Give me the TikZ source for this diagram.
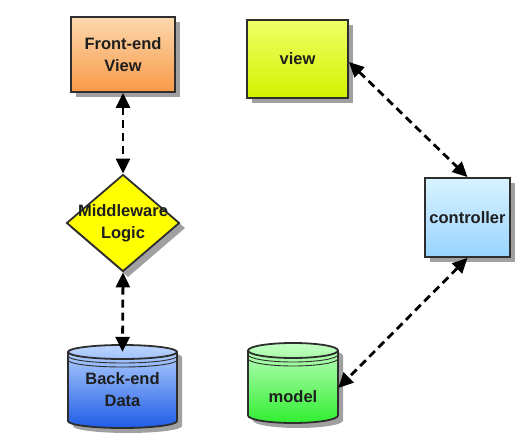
\documentclass[tikz,border=0pt]{standalone}
\usepackage{fontspec}
\setmainfont{Liberation Sans}
\usetikzlibrary{shapes.geometric,arrows.meta,calc}
\definecolor{edge}{HTML}{2E2E2E}
\definecolor{txt}{HTML}{1E1E1E}
\definecolor{shd}{HTML}{A0A0A0}
\definecolor{feTop}{HTML}{FCD8AE}
\definecolor{feBot}{HTML}{F89A48}
\definecolor{vTop}{HTML}{EEFF66}
\definecolor{vBot}{HTML}{D2F200}
\definecolor{cTop}{HTML}{D8F2FF}
\definecolor{cBot}{HTML}{99D4FF}
\definecolor{mTop}{HTML}{C4FFC4}
\definecolor{mBot}{HTML}{30EE30}
\definecolor{bTop}{HTML}{BCD6FF}
\definecolor{bBot}{HTML}{1E5CE6}
\definecolor{dia}{HTML}{FFFF00}
\tikzset{
  lbl/.style={font=\bfseries\fontsize{16.5}{22}\selectfont, text=txt, align=center},
  box/.style={lbl, draw=edge, line width=1.8pt, inner sep=0pt},
  shadowbox/.style={fill=shd, draw=none, inner sep=0pt},
  cylbody/.style={draw=edge, line width=1.8pt},
  cylline/.style={draw=edge, line width=0.9pt},
  link/.style={line width=2.8pt, dash pattern=on 8pt off 5pt,
    {Triangle[length=15pt,width=14pt]}-{Triangle[length=15pt,width=14pt]}},
}
\begin{document}
\begin{tikzpicture}[x=1pt,y=-1pt]
\useasboundingbox (0,0) rectangle (530,446);

% box shadows
\node[shadowbox, minimum width=104pt, minimum height=75pt] (fes) at (128,59.5) {};
\node[shadowbox, minimum width=101pt, minimum height=78pt] (vws) at (302.5,64) {};
\node[shadowbox, minimum width=85pt, minimum height=79pt] (cts) at (472.5,222.5) {};

% left column
\node[box, top color=feTop, bottom color=feBot, minimum width=104pt, minimum height=75pt] (fe) at (123,54.5) {Front-end\\View};
\fill[shd] (128,180) -- (185,228) -- (128,277) -- (71,228) -- cycle;
\node[diamond, draw=edge, line width=1.8pt, fill=dia, inner sep=0pt, aspect=1.16,
  minimum width=113pt, minimum height=97pt] (mw) at (123,223) {};
\node[lbl] (mwt) at (mw.center) {Middleware\\Logic};

% back-end cylinder
\fill[shd] (73,357) -- (73,426) arc[start angle=180,end angle=360,x radius=54.5pt,y radius=7pt] -- (182,357) arc[start angle=0,end angle=180,x radius=54.5pt,y radius=7pt] -- cycle;
\path[cylbody, top color=bTop, bottom color=bBot] (68,352) -- (68,421) arc[start angle=180,end angle=360,x radius=54.5pt,y radius=7pt] -- (177,352) arc[start angle=0,end angle=180,x radius=54.5pt,y radius=7pt] -- cycle;
\draw[cylbody] (68,352) arc[start angle=180,end angle=360,x radius=54.5pt,y radius=7pt];
\draw[cylline] (68,356) arc[start angle=180,end angle=360,x radius=54.5pt,y radius=7pt];
\draw[cylline] (68,360) arc[start angle=180,end angle=360,x radius=54.5pt,y radius=7pt];
\node[minimum width=109pt, minimum height=83pt, inner sep=0pt] (be) at (122.5,386.5) {};
\node[lbl] (bet) at (122.5,390) {Back-end\\Data};

% right column
\node[box, top color=vTop, bottom color=vBot, minimum width=101pt, minimum height=78pt] (vw) at (297.5,59) {view};
\node[box, top color=cTop, bottom color=cBot, minimum width=85pt, minimum height=79pt] (ct) at (467.5,217.5) {controller};

% model cylinder
\fill[shd] (253,355.5) -- (253,420.5) arc[start angle=180,end angle=360,x radius=45pt,y radius=7.5pt] -- (343,355.5) arc[start angle=0,end angle=180,x radius=45pt,y radius=7.5pt] -- cycle;
\path[cylbody, top color=mTop, bottom color=mBot] (248,350.5) -- (248,415.5) arc[start angle=180,end angle=360,x radius=45pt,y radius=7.5pt] -- (338,350.5) arc[start angle=0,end angle=180,x radius=45pt,y radius=7.5pt] -- cycle;
\draw[cylbody] (248,350.5) arc[start angle=180,end angle=360,x radius=45pt,y radius=7.5pt];
\draw[cylline] (248,354.5) arc[start angle=180,end angle=360,x radius=45pt,y radius=7.5pt];
\draw[cylline] (248,358.5) arc[start angle=180,end angle=360,x radius=45pt,y radius=7.5pt];
\node[minimum width=90pt, minimum height=80pt, inner sep=0pt] (md) at (293,383) {};
\node[lbl] (mdt) at (293,397) {model};

% connectors
\draw[link] (fe.south) -- (mw.north);
\draw[link] (mw.south) -- ([yshift=-7pt]be.north);
\draw[link] ([yshift=-3pt]vw.east) -- (ct.north);
\draw[link] (ct.south) -- ([yshift=-5pt]md.east);
\end{tikzpicture}
\end{document}
